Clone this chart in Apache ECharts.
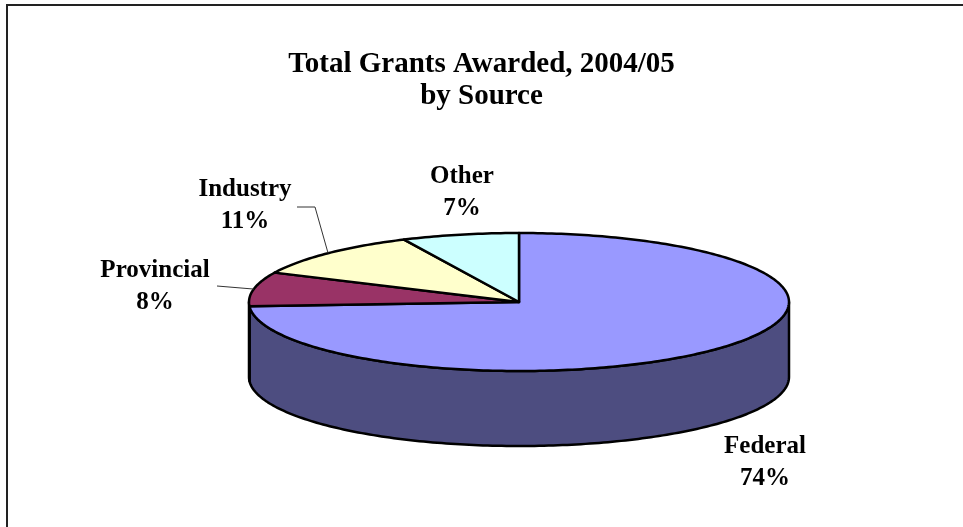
<!DOCTYPE html>
<html>
<head>
<meta charset="utf-8">
<script src="https://cdn.jsdelivr.net/npm/echarts@6/dist/echarts.min.js"></script>
<style>
  html, body { margin: 0; padding: 0; background: #fff; }
  #chart { width: 963px; height: 527px; }
</style>
</head>
<body>
<div id="chart"></div>
<script>
// Grant sources and their share of the total (percent)
const sources = ['Federal', 'Provincial', 'Industry', 'Other'];
const shares = [74, 8, 11, 7];
const titleText = 'Total Grants Awarded, 2004/05\nby Source';

// Slice colours: top face and darker side wall
const topColors = ['#9999FF', '#993366', '#FFFFCC', '#CCFFFF'];
const sideColors = ['#4D4D80', '#4D1A33', '#80806A', '#668080'];

// Tilted-disc geometry
const disc = { cx: 519, cy: 302, rx: 270, ry: 69, depth: 75 };

// Label placement relative to the disc centre, plus where each leader line starts
const labelLayout = [
  { dx: 246, dy: 161, lead: null },
  { dx: -364, dy: -15, lead: [[-302, -16]] },
  { dx: -274, dy: -96, lead: [[-222, -95], [-204, -95]] },
  { dx: -57, dy: -109, lead: null }
];

const total = shares.reduce((a, b) => a + b, 0);
const starts = [];
shares.reduce((acc, v, i) => { starts[i] = acc; return acc + v; }, 0);

// angle measured clockwise from 12 o'clock
function pt(theta, dz) {
  return [disc.cx + disc.rx * Math.sin(theta), disc.cy - disc.ry * Math.cos(theta) + (dz || 0)];
}
function arc(a0, a1, dz) {
  const n = Math.max(2, Math.ceil(Math.abs(a1 - a0) / (Math.PI / 180)));
  const out = [];
  for (let k = 0; k <= n; k++) out.push(pt(a0 + (a1 - a0) * k / n, dz));
  return out;
}

const lineStyle = { stroke: '#000', lineWidth: 2.5, lineJoin: 'round' };
const labelFont = 'bold 25px "Liberation Serif", serif';

function renderItem(params, api) {
  const i = params.dataIndex;
  const v = api.value(0);
  const a0 = starts[i] / total * Math.PI * 2;
  const a1 = (starts[i] + v) / total * Math.PI * 2;
  const children = [];

  // front-facing side wall (angles between 90° and 270°)
  const s0 = Math.max(a0, Math.PI / 2);
  const s1 = Math.min(a1, Math.PI * 3 / 2);
  if (s1 > s0) {
    const pts = arc(s0, s1, 0).concat(arc(s1, s0, disc.depth));
    children.push({
      type: 'polygon',
      shape: { points: pts },
      style: Object.assign({ fill: sideColors[i] }, lineStyle)
    });
  }

  // top face
  const topPts = [[disc.cx, disc.cy]].concat(arc(a0, a1, 0));
  children.push({
    type: 'polygon',
    shape: { points: topPts },
    style: Object.assign({ fill: topColors[i] }, lineStyle)
  });

  // label and leader line
  const lay = labelLayout[i];
  if (lay.lead) {
    const mid = (a0 + a1) / 2;
    const pts = lay.lead.map(p => [disc.cx + p[0], disc.cy + p[1]]).concat([pt(mid, 0)]);
    children.push({
      type: 'polyline',
      shape: { points: pts },
      style: { stroke: '#333', lineWidth: 1, fill: null }
    });
  }
  children.push({
    type: 'text',
    style: {
      text: sources[i] + '\n' + v + '%',
      x: disc.cx + lay.dx,
      y: disc.cy + lay.dy,
      align: 'center',
      verticalAlign: 'middle',
      font: labelFont,
      lineHeight: 32,
      fill: '#000'
    }
  });

  return { type: 'group', children: children };
}

const chart = echarts.init(document.getElementById('chart'), null, { renderer: 'canvas' });
chart.setOption({
  animation: false,
  backgroundColor: '#fff',
  title: {
    text: titleText,
    left: 'center',
    top: 44,
    textStyle: {
      fontFamily: '"Liberation Serif", serif',
      fontWeight: 'bold',
      fontSize: 29,
      lineHeight: 32,
      color: '#000'
    }
  },
  graphic: [{
    type: 'rect',
    shape: { x: 7, y: 5, width: 1000, height: 600 },
    style: { fill: null, stroke: '#222', lineWidth: 2 },
    silent: true
  }],
  series: [{
    type: 'custom',
    coordinateSystem: 'none',
    silent: true,
    renderItem: renderItem,
    data: shares.map((v, i) => ({ name: sources[i], value: [v] }))
  }]
});
</script>
</body>
</html>
